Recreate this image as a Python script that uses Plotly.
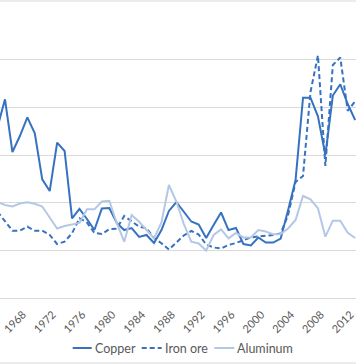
import plotly.graph_objects as go

years = list(range(1965, 2014))

copper = [179.4, 208.4, 153.1, 169.9, 189.5, 172.8, 124.5, 112.2, 162.9, 154.2,
          83.6, 93.4, 82.9, 71.3, 93.9, 94.4, 78.7, 71.3, 73.4, 64.0,
          66.1, 57.7, 71.3, 91.3, 100.7, 90.2, 80.2, 77.1, 62.9, 76.6,
          89.7, 71.3, 73.4, 56.6, 55.1, 63.5, 58.2, 58.2, 62.4, 92.3,
          123.8, 210.1, 210.1, 190.6, 150.0, 212.4, 224.2, 203.5, 186.7]

iron_ore = [90.5, 80.0, 70.6, 70.6, 74.8, 70.6, 70.6, 66.1, 56.6, 59.1,
            67.9, 83.6, 79.2, 68.2, 67.1, 72.1, 72.7, 86.0, 80.2, 74.8,
            73.1, 62.9, 57.4, 50.9, 58.2, 65.6, 70.3, 66.6, 56.1, 53.0,
            51.9, 55.6, 57.7, 60.8, 63.5, 64.5, 65.0, 66.1, 67.7, 87.1,
            121.7, 128.0, 216.1, 254.4, 138.5, 244.4, 252.3, 196.2, 206.6]

aluminum = [100.7, 97.6, 96.0, 99.1, 100.4, 98.8, 96.0, 85.0, 72.9, 75.5,
            77.1, 78.7, 93.0, 93.0, 101.2, 102.0, 78.7, 59.1, 87.1, 80.0,
            71.3, 62.6, 79.2, 118.5, 101.2, 77.6, 59.1, 57.2, 49.8, 66.1,
            71.9, 62.6, 68.2, 63.5, 63.5, 71.3, 69.8, 66.8, 67.1, 72.9,
            81.8, 107.0, 103.5, 94.1, 64.3, 81.1, 81.1, 68.5, 62.9]

series_names = ["Copper", "Iron ore", "Aluminum"]
tick_years = list(range(1968, 2013, 4))
tick_text = [str(y) for y in tick_years]

dark = "#3672C0"
light = "#B4C7E7"
dash_style = "5px,3px"
styles = [dict(color=dark, width=2),
          dict(color=dark, width=2, dash=dash_style),
          dict(color=light, width=2)]

fig = go.Figure()
for name, vals, st in zip(series_names, [copper, iron_ore, aluminum], styles):
    fig.add_trace(go.Scatter(x=years, y=vals, name=name, mode="lines",
                             line=st, showlegend=False, hoverinfo="skip"))

W = 356.0
H = 286.0
def py(pix):
    return (298 - pix) / H
def px(pix):
    return pix / W

# manual legend (line sample + label), placed below the plot
leg_y = py(348)
leg_lines = [(72.7, 91.7), (141.7, 161.7), (214.3, 234.3)]
leg_text_x = [93.0, 163.0, 234.5]
shapes = [
    dict(type="line", xref="paper", yref="paper", x0=-0.05, x1=1.05,
         y0=py(1), y1=py(1), line=dict(color="#D9D9D9", width=1)),
    dict(type="line", xref="paper", yref="paper", x0=-0.05, x1=1.05,
         y0=py(363), y1=py(363), line=dict(color="#D9D9D9", width=1)),
]
annotations = []
for (x0, x1), tx, name, st in zip(leg_lines, leg_text_x, series_names, styles):
    shapes.append(dict(type="line", xref="paper", yref="paper",
                       x0=px(x0), x1=px(x1), y0=leg_y, y1=leg_y,
                       line=dict(color=st["color"], width=2,
                                 dash=st.get("dash", "solid"))))
    annotations.append(dict(xref="paper", yref="paper", x=px(tx), y=leg_y,
                            xanchor="left", yanchor="middle", text=name,
                            showarrow=False,
                            font=dict(size=12.5, color="#595959")))

fig.update_layout(
    width=356, height=364,
    margin=dict(l=0, r=0, t=12, b=66, autoexpand=False),
    paper_bgcolor="white", plot_bgcolor="white",
    font=dict(family="Lato, Liberation Sans, sans-serif", size=12, color="#595959"),
    showlegend=False,
    hovermode=False,
    xaxis=dict(range=[1965.33, 2013.11], tickvals=tick_years, ticktext=tick_text,
               tickangle=-45, showgrid=False, showline=True, linecolor="#D9D9D9",
               linewidth=1, ticks="", zeroline=False, automargin=False,
               ticklabeloverflow="allow", ticklabelstandoff=5, ticklabelshift=3,
               tickfont=dict(size=11, color="#595959")),
    yaxis=dict(range=[0, 300], dtick=50, showgrid=True, gridcolor="#D9D9D9",
               gridwidth=1, showticklabels=False, zeroline=False, showline=False,
               automargin=False),
    shapes=shapes,
    annotations=annotations,
)

fig.write_html("out.html", config={"displayModeBar": False},
               post_script="document.body.style.margin='0';document.body.style.padding='0';")
